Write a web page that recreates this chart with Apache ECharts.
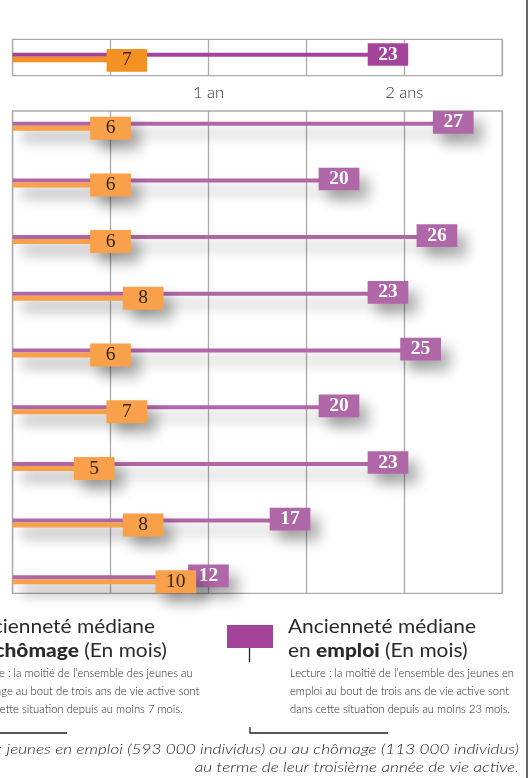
<!DOCTYPE html>
<html><head><meta charset="utf-8">
<script src="https://cdn.jsdelivr.net/npm/echarts@6/dist/echarts.min.js"></script>
<style>html,body{margin:0;padding:0;background:#fff}#c{width:531px;height:778px}</style>
</head><body><div id="c"></div>
<script>
// ---- data ----
const topCategory = ['Ensemble'];
const topEmploi = [23];
const topChomage = [7];
const categories = ['Groupe 1','Groupe 2','Groupe 3','Groupe 4','Groupe 5','Groupe 6','Groupe 7','Groupe 8','Groupe 9'];
const emploi = [27, 20, 26, 23, 25, 20, 23, 17, 12];
const chomage = [6, 6, 6, 8, 6, 7, 5, 8, 10];
const tickLabels = {12: '1 an', 24: '2 ans'};

// ---- styles ----
const P_TOP = '#A3449A', O_TOP = '#F39122';
const P_MAIN = '#B067A8', O_MAIN = '#F8A14A';
const GRIDC = '#ababab';
const SANS = 'Lato, "Open Sans", sans-serif';
const SERIF = '"Liberation Serif", "DejaVu Serif", serif';
const shadow = {shadowBlur: 14, shadowColor: 'rgba(0,0,0,0.33)', shadowOffsetX: 9, shadowOffsetY: 10};

// horizontal scale so that a sample line has the width measured on the reference
const ctx = document.createElement('canvas').getContext('2d');
function scaleFor(text, font, width) {
  ctx.font = font;
  return width / ctx.measureText(text).width;
}
const TITLE_FONT = '400 19.5px ' + SANS;
const DESC_FONT = '300 12.2px ' + SANS;
const NOTE_FONT = 'italic 300 14.5px ' + SANS;
const titleScale = scaleFor('Ancienneté médiane', TITLE_FONT, 188);
const descScale = scaleFor('Lecture : la moitié de l\u2019ensemble des jeunes en', DESC_FONT, 224);
const noteScale = (scaleFor('au terme de leur troisième année de vie active.', NOTE_FONT, 326) +
  scaleFor(': jeunes en emploi (593 000 individus) ou au chômage (113 000 individus)', NOTE_FONT, 518)) / 2;

const chart = echarts.init(document.getElementById('c'), null, {renderer: 'canvas'});

function xAx(gi, labels) {
  return {
    gridIndex: gi, type: 'value', min: 0, max: 30, interval: 6,
    axisLine: {show: false}, axisTick: {show: false},
    splitLine: {show: true, lineStyle: {color: GRIDC, width: 1.3}},
    axisLabel: labels ? {show: true, margin: 8, fontFamily: SANS, fontWeight: 300, fontSize: 16.5, color: '#333',
      formatter: v => tickLabels[v] || ''} : {show: false}
  };
}

function boxSeries(gi, data, cats, color, offsetY, txtColor, bold, size, withShadow, z) {
  return {
    type: 'scatter', xAxisIndex: gi, yAxisIndex: gi, z: z, silent: true,
    symbol: 'rect', symbolSize: size, symbolOffset: [0, offsetY],
    itemStyle: Object.assign({color: color, opacity: 1}, withShadow ? shadow : {}),
    label: {show: true, position: 'inside', formatter: p => p.value[0],
      fontFamily: SERIF, fontSize: 19.5, fontWeight: bold ? 'bold' : 'normal', color: txtColor},
    emphasis: {disabled: true},
    data: data.map((v, i) => [v, cats[i]])
  };
}

const option = {
  animation: false,
  grid: [
    {left: 12.6, right: 28.8, top: 39.3, height: 36.4, show: true, borderColor: GRIDC, borderWidth: 1.3},
    {left: 12.6, right: 28.8, top: 111, height: 482.3, show: true, borderColor: GRIDC, borderWidth: 1.3},
    {left: 12.6, right: 28.8, top: 97.85, height: 510.3}
  ],
  xAxis: [xAx(0, true), xAx(1, false), Object.assign(xAx(2, false), {splitLine: {show: false}})],
  yAxis: [
    {gridIndex: 0, type: 'category', data: topCategory, inverse: true, show: false},
    {gridIndex: 1, type: 'value', min: 0, max: 1, show: false},
    {gridIndex: 2, type: 'category', data: categories, inverse: true, show: false}
  ],
  series: [
    {type: 'bar', xAxisIndex: 0, yAxisIndex: 0, barWidth: 4, barGap: '0%', silent: true, z: 2,
      itemStyle: {color: P_TOP}, data: topEmploi},
    {type: 'bar', xAxisIndex: 0, yAxisIndex: 0, barWidth: 5.5, barGap: '0%', silent: true, z: 2,
      itemStyle: {color: O_TOP}, data: topChomage},
    boxSeries(0, topEmploi, topCategory, P_TOP, -3, '#fff', true, [40.5, 22.5], false, 3),
    boxSeries(0, topChomage, topCategory, O_TOP, 2.8, '#33261a', false, [40.5, 22.7], false, 4),

    {type: 'bar', xAxisIndex: 2, yAxisIndex: 2, barWidth: 4, barGap: '0%', silent: true, z: 2,
      itemStyle: Object.assign({color: P_MAIN}, shadow), data: emploi},
    {type: 'bar', xAxisIndex: 2, yAxisIndex: 2, barWidth: 5, barGap: '0%', silent: true, z: 2,
      itemStyle: Object.assign({color: O_MAIN}, shadow), data: chomage},
    boxSeries(2, emploi, categories, P_MAIN, -3.9, '#fff', true, [40.7, 22.7], true, 3),
    boxSeries(2, chomage, categories, O_MAIN, 2, '#33261a', false, [40.7, 23], true, 4)
  ],
  graphic: []
};

function txt(x, y, sx, text, font, fill, align, rich) {
  const style = {x: 0, y: 0, text: text, font: font, fill: fill, align: align || 'left', verticalAlign: 'middle'};
  if (rich) style.rich = rich;
  return {type: 'text', x: x, y: y, scaleX: sx, style: style};
}

// legend blocks (right block; left block is the same shifted left, partly off-canvas)
function legendBlock(dx, swatchColor, word, desc) {
  const g = [];
  const T = '#2a2a2a';
  g.push({type: 'rect', shape: {x: 227 + dx, y: 625, width: 46, height: 23}, style: {fill: swatchColor}});
  g.push({type: 'line', shape: {x1: 249.5 + dx, y1: 648, x2: 249.5 + dx, y2: 662}, style: {stroke: '#222', lineWidth: 1.3}});
  g.push(txt(288 + dx, 627, titleScale, 'Ancienneté médiane', TITLE_FONT, T));
  g.push(txt(288 + dx, 651, titleScale, word[0] + ' {b|' + word[1] + '} (En mois)', TITLE_FONT, T, 'left',
    {b: {fontFamily: SANS, fontWeight: 900, fontSize: 19.5, fill: T}}));
  const ys = [673.4, 690.8, 708.8];
  desc.forEach((t, i) => g.push(txt(290 + dx, ys[i], descScale, t, DESC_FONT, '#262626')));
  g.push({type: 'polyline', shape: {points: [[250 + dx, 727], [250 + dx, 733], [388 + dx, 733]]}, style: {stroke: '#222', lineWidth: 1.3, fill: null}});
  return g;
}
option.graphic = [].concat(
  legendBlock(-321, O_TOP, ['au', 'chômage'], [
    'Lecture : la moitié de l\u2019ensemble des jeunes au',
    'chômage au bout de trois ans de vie active sont',
    'dans cette situation depuis au moins 7 mois.']),
  legendBlock(0, P_TOP, ['en', 'emploi'], [
    'Lecture : la moitié de l\u2019ensemble des jeunes en',
    'emploi au bout de trois ans de vie active sont',
    'dans cette situation depuis au moins 23 mois.']),
  [
    txt(519, 749.5, noteScale, 'Champ : jeunes en emploi (593 000 individus) ou au chômage (113 000 individus)', NOTE_FONT, '#222', 'right'),
    txt(519, 767.5, noteScale, 'au terme de leur troisième année de vie active.', NOTE_FONT, '#222', 'right'),
    {type: 'line', shape: {x1: 527, y1: 0, x2: 527, y2: 778}, style: {stroke: '#333', lineWidth: 1.5}}
  ]
);

chart.setOption(option);
</script></body></html>
